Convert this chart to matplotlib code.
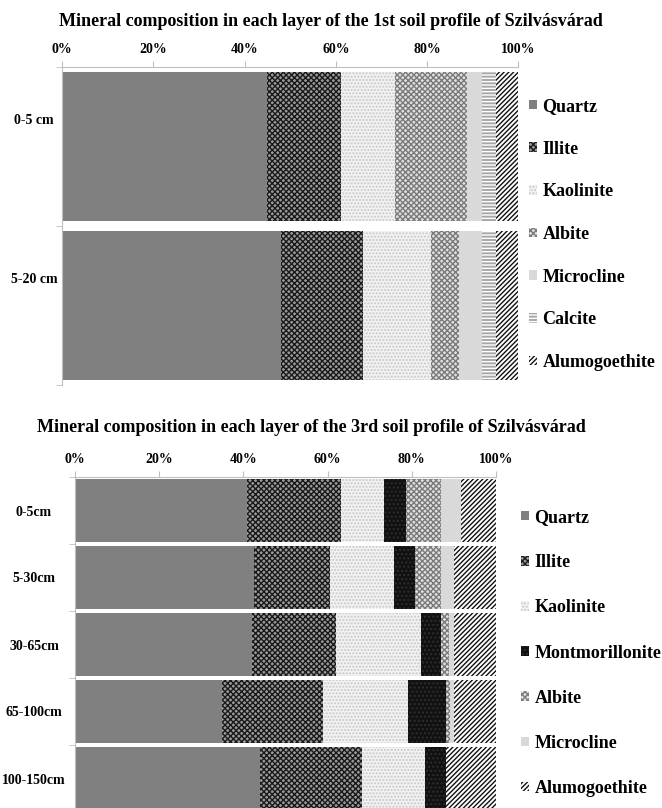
import numpy as np
import matplotlib
matplotlib.use('Agg')
import matplotlib.pyplot as plt
import matplotlib.ticker as mtick
from matplotlib.transforms import ScaledTranslation

plt.rcParams['font.family'] = ['Liberation Serif', 'DejaVu Serif']
plt.rcParams['font.weight'] = 'bold'
plt.rcParams['hatch.linewidth'] = 1.0

# 1st soil profile (percent per layer)
layers1 = ['0-5 cm', '5-20 cm']
quartz1 = [44.9, 48.1]
illite1 = [16.2, 17.9]
kaolinite1 = [11.9, 14.9]
albite1 = [15.8, 6.0]
microcline1 = [3.2, 5.1]
calcite1 = [3.1, 3.1]
alumogoethite1 = [4.9, 4.9]

# 3rd soil profile
layers3 = ['0-5cm', '5-30cm', '30-65cm', '65-100cm', '100-150cm']
quartz3 = [40.8, 42.4, 42.0, 35.0, 43.9]
illite3 = [22.4, 18.2, 20.0, 24.0, 24.2]
kaolinite3 = [10.3, 15.2, 20.2, 20.1, 15.0]
montmorillonite3 = [5.1, 5.0, 4.8, 9.0, 5.0]
albite3 = [8.3, 6.1, 1.9, 1.0, 0.0]
microcline3 = [4.9, 3.1, 1.1, 0.9, 0.0]
alumogoethite3 = [8.2, 10.0, 10.0, 10.0, 11.9]

# fill colour, hatch, hatch colour for each mineral
styles = {
    'Quartz': ('#808080', None, '#808080'),
    'Illite': ('#9a9a9a', 'xxxxxx', '#1a1a1a'),
    'Kaolinite': ('#f2f2f2', '.....', '#c8c8c8'),
    'Montmorillonite': ('#111111', '....', '#2e2e2e'),
    'Albite': ('#e0e0e0', 'xxxxxx', '#7a7a7a'),
    'Microcline': ('#d9d9d9', None, '#d9d9d9'),
    'Calcite': ('#a8a8a8', '-----', '#ffffff'),
    'Alumogoethite': ('#ffffff', '///////', '#111111'),
}

W, H = 662, 808
fig = plt.figure(figsize=(W / 100, H / 100), dpi=100)


def px_axes(x0, x1, y0, y1):
    # axes box given in pixel coords (top-left origin)
    return fig.add_axes([x0 / W, 1 - y1 / H, (x1 - x0) / W, (y1 - y0) / H])


def stacked(ax, layers, series, label_pad, label_shift):
    y = np.arange(len(layers))
    left = np.zeros(len(layers))
    handles = []
    for name, vals in series:
        fc, hatch, ec = styles[name]
        bars = ax.barh(y, vals, left=left, height=0.94, color=fc,
                       hatch=hatch, edgecolor=ec, linewidth=0, label=name)
        handles.append(bars)
        left += np.array(vals)
    ax.set_xlim(0, 100)
    ax.set_ylim(len(layers) - 0.5, -0.5)
    ax.xaxis.tick_top()
    ax.xaxis.set_major_locator(mtick.MultipleLocator(20))
    ax.xaxis.set_major_formatter(mtick.PercentFormatter(decimals=0))
    ax.tick_params(axis='x', length=4, color='#bfbfbf', labelsize=10, pad=4)
    ax.set_yticks(y)
    ax.set_yticklabels(layers, fontsize=10)
    ax.set_yticks(np.arange(len(layers) + 1) - 0.5, minor=True)
    ax.tick_params(axis='y', which='major', length=0, pad=label_pad)
    ax.tick_params(axis='y', which='minor', length=4, color='#bfbfbf')
    for lab in ax.get_yticklabels():
        lab.set_ha('center')
        lab.set_transform(lab.get_transform() +
                          ScaledTranslation(0, label_shift / 72, fig.dpi_scale_trans))
    for s in ['right', 'bottom']:
        ax.spines[s].set_visible(False)
    for s in ['top', 'left']:
        ax.spines[s].set_color('#bfbfbf')
        ax.spines[s].set_linewidth(0.8)
    return handles


# top chart
ax1 = px_axes(62, 518.3, 67, 385)
h1 = stacked(ax1, layers1,
             [('Quartz', quartz1), ('Illite', illite1), ('Kaolinite', kaolinite1),
              ('Albite', albite1), ('Microcline', microcline1),
              ('Calcite', calcite1), ('Alumogoethite', alumogoethite1)],
             label_pad=20, label_shift=20)
fig.text(331 / W, 1 - 21 / H,
         'Mineral composition in each layer of the 1st soil profile of Szilvásvárad',
         ha='center', va='center', fontsize=13)
fig.legend(handles=h1, loc='upper left', bbox_to_anchor=(529 / W, 1 - 98 / H),
           frameon=False, fontsize=13, handlelength=0.45, handleheight=0.45,
           handletextpad=0.3, labelspacing=1.42, borderpad=0, borderaxespad=0)

# bottom chart
ax3 = px_axes(75, 496, 477, 812)
h3 = stacked(ax3, layers3,
             [('Quartz', quartz3), ('Illite', illite3), ('Kaolinite', kaolinite3),
              ('Montmorillonite', montmorillonite3), ('Albite', albite3),
              ('Microcline', microcline3), ('Alumogoethite', alumogoethite3)],
             label_pad=29.5, label_shift=0)
fig.text(311 / W, 1 - 427 / H,
         'Mineral composition in each layer of the 3rd soil profile of Szilvásvárad',
         ha='center', va='center', fontsize=13)
fig.legend(handles=h3, loc='upper left', bbox_to_anchor=(521 / W, 1 - 509 / H),
           frameon=False, fontsize=13, handlelength=0.45, handleheight=0.45,
           handletextpad=0.3, labelspacing=1.56, borderpad=0, borderaxespad=0)

fig.savefig('out.png', dpi=100)
